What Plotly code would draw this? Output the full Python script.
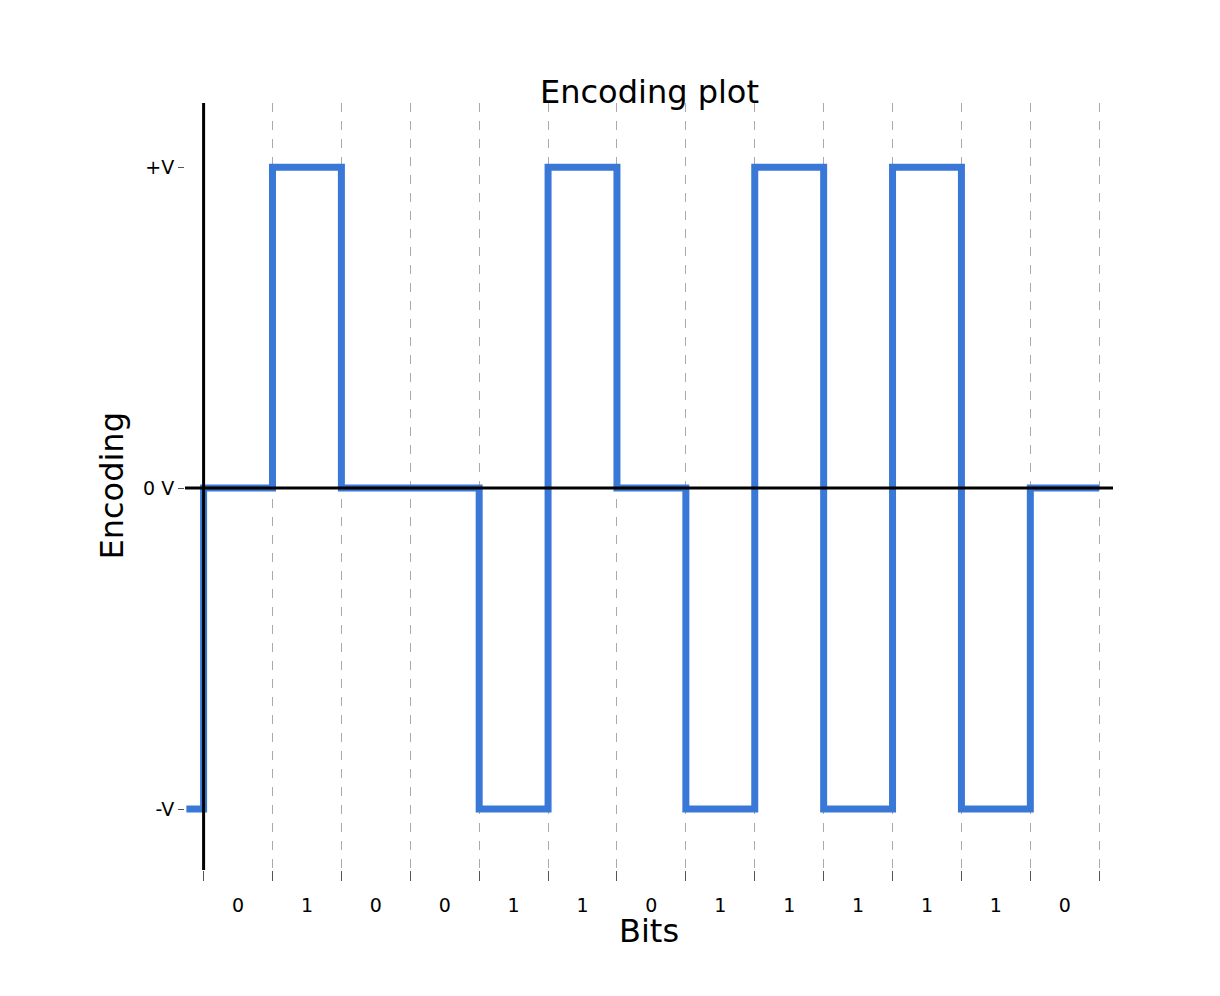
import plotly.graph_objects as go

bits = ["0", "1", "0", "0", "1", "1", "0", "1", "1", "1", "1", "1", "0"]
levels = [0, 1, 0, 0, -1, 1, 0, -1, 1, -1, 1, -1, 0]
start_level = -1
y_labels = ["-V", "0 V", "+V"]

x = [-0.25] + list(range(len(bits) + 1))
y = [start_level] + levels + [levels[-1]]

fig = go.Figure()
fig.add_trace(go.Scatter(x=x, y=y, mode="lines", line_shape="hv",
                         line=dict(color="#3a78d8", width=7), showlegend=False))
# bit labels on a second axis at bit centres
fig.add_trace(go.Scatter(x=[i + 0.5 for i in range(len(bits))], y=[None] * len(bits),
                         xaxis="x2", showlegend=False))

fig.add_shape(type="line", xref="x", yref="paper", x0=0, x1=0, y0=0, y1=1,
              line=dict(color="black", width=3), layer="above")
fig.add_shape(type="line", xref="paper", yref="y", x0=0, x1=1, y0=0, y1=0,
              line=dict(color="black", width=3), layer="above")

font = dict(family="DejaVu Sans", color="black")
fig.add_annotation(text="Encoding plot", xref="paper", yref="paper", x=0.5, y=1.0,
                   yshift=32, showarrow=False, font=dict(size=32, **font))
fig.add_annotation(text="Bits", xref="paper", yref="paper", x=0.5, y=0,
                   yshift=-82, showarrow=False, font=dict(size=32, **font))
fig.add_annotation(text="Encoding", xref="paper", yref="paper", x=0, y=0.5,
                   xshift=-95, textangle=-90, showarrow=False, font=dict(size=32, **font))

fig.update_layout(
    width=1220, height=996, plot_bgcolor="white", paper_bgcolor="white",
    margin=dict(l=177, r=115, t=95, b=134, autoexpand=False),
    xaxis=dict(range=[-0.27, 13.2], tickvals=list(range(len(bits) + 1)),
               ticktext=[""] * (len(bits) + 1), ticks="outside", ticklen=10,
               tickcolor="#555", showgrid=True, gridcolor="#aaa", griddash="dash",
               gridwidth=1, zeroline=False, showline=False, automargin=False),
    xaxis2=dict(range=[-0.27, 13.2], overlaying="x", side="bottom",
                tickvals=[i + 0.5 for i in range(len(bits))], ticktext=bits,
                ticks="", showgrid=False, zeroline=False, showline=False,
                tickfont=dict(size=19, **font), anchor="y", ticklabelstandoff=22,
                automargin=False),
    yaxis=dict(range=[-1.19, 1.2], tickvals=[-1, 0, 1], ticktext=y_labels,
               ticks="outside", ticklen=6, tickcolor="#555", showgrid=False,
               zeroline=False, showline=False, tickfont=dict(size=19, **font),
               automargin=False),
)

fig.write_html("out.html")
